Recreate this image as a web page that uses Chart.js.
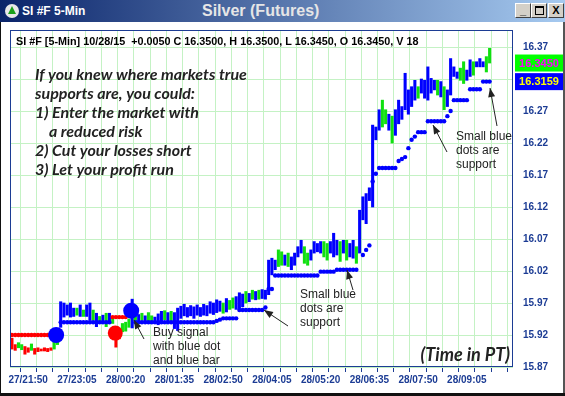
<!DOCTYPE html>
<html>
<head>
<meta charset="utf-8">
<script src="https://cdn.jsdelivr.net/npm/chart.js@4.4.1/dist/chart.umd.min.js"></script>
<style>
  html, body { margin: 0; padding: 0; background: #fff; }
  #win { position: relative; width: 565px; height: 396px; overflow: hidden; background: #fff; font-family: 'Liberation Sans', Arial, sans-serif; }
  #cv { position: absolute; left: 0; top: 0; }
  #tbar { position: absolute; left: 0; top: 0; width: 565px; height: 22px; background: linear-gradient(to right, #0a246a, #a6caf0); }
  #ico { position: absolute; left: 5px; top: 4px; width: 14px; height: 14px; border-radius: 7px; background: #e8e8e8; }
  #tri { position: absolute; left: 3px; top: 2px; width: 0; height: 0; border-left: 4px solid transparent; border-right: 4px solid transparent; border-bottom: 8px solid #1aa01a; }
  #tl { position: absolute; left: 22px; top: 4px; color: #fff; font-weight: bold; font-size: 12px; }
  #tc { position: absolute; left: 202px; top: 2px; color: #e6e6e6; font-weight: bold; font-size: 16px; }
  .btn { position: absolute; top: 3px; width: 14px; height: 13px; background: #d4d0c8; border-top: 1px solid #fff; border-left: 1px solid #fff; border-right: 1px solid #404040; border-bottom: 1px solid #404040; font-weight: bold; font-size: 11px; line-height: 13px; text-align: center; color: #000; }
  .edge { position: absolute; background: #111; }
</style>
</head>
<body>
<div id="win">
  <canvas id="cv" width="565" height="396"></canvas>
  <div id="tbar">
    <div id="ico"><div id="tri"></div></div>
    <span id="tl">SI #F 5-Min</span>
    <span id="tc">Silver (Futures)</span>
    <div class="btn" style="left:515px">_</div>
    <div class="btn" style="left:531px"><div style="margin:2px auto 0; width:7px; height:6px; border:1px solid #000; border-top-width:2px;"></div></div>
    <div class="btn" style="left:548px">X</div>
  </div>
  <div class="edge" style="left:0; top:22px; width:1px; height:374px;"></div>
  <div class="edge" style="left:563px; top:22px; width:2px; height:374px; background:#555;"></div>
  <div class="edge" style="left:0; top:393px; width:565px; height:3px;"></div>
</div>
<script>
// 5-min bars, index 0 = 27/21:25
const highs = [
  15.915, 15.905, 15.908, 15.905, 15.902, 15.900, 15.906, 15.899, 15.900, 15.898,
  15.900, 15.899, 15.900, 15.910, 15.917, 15.972, 15.970, 15.967, 15.970, 15.962,
  15.962, 15.967, 15.959, 15.967, 15.970, 15.959, 15.954, 15.949, 15.951, 15.954,
  15.954, 15.946, 15.931, 15.925, 15.938, 15.940, 15.945, 15.976, 15.956, 15.952,
  15.954, 15.950, 15.955, 15.950, 15.948, 15.953, 15.957, 15.958, 15.955, 15.957,
  15.955, 15.962, 15.965, 15.968, 15.963, 15.966, 15.964, 15.967, 15.963, 15.968,
  15.966, 15.972, 15.970, 15.975, 15.973, 15.970, 15.977, 15.974, 15.978, 15.980,
  15.986, 15.984, 15.988, 15.985, 15.990, 15.988, 15.990, 15.991, 15.990, 16.037,
  16.040, 16.037, 16.053, 16.050, 16.045, 16.048, 16.042, 16.048, 16.058, 16.068,
  16.058, 16.048, 16.053, 16.066, 16.063, 16.066, 16.066, 16.063, 16.066, 16.079,
  16.068, 16.066, 16.068, 16.068, 16.063, 16.068, 16.058, 16.115, 16.136, 16.141,
  16.150, 16.248, 16.245, 16.272, 16.287, 16.272, 16.265, 16.262, 16.272, 16.287,
  16.277, 16.329, 16.303, 16.308, 16.318, 16.308, 16.320, 16.318, 16.339, 16.321,
  16.318, 16.318, 16.316, 16.308, 16.303, 16.352, 16.339, 16.331, 16.337, 16.347,
  16.334, 16.350, 16.347, 16.347, 16.352, 16.347, 16.355, 16.368
];
const lows = [
  15.898, 15.896, 15.900, 15.897, 15.890, 15.893, 15.896, 15.890, 15.894, 15.895,
  15.895, 15.894, 15.896, 15.898, 15.905, 15.932, 15.948, 15.951, 15.948, 15.949,
  15.951, 15.949, 15.949, 15.949, 15.943, 15.943, 15.933, 15.941, 15.938, 15.933,
  15.941, 15.938, 15.901, 15.914, 15.925, 15.926, 15.932, 15.931, 15.940, 15.938,
  15.943, 15.940, 15.942, 15.940, 15.938, 15.936, 15.942, 15.944, 15.942, 15.940,
  15.930, 15.927, 15.946, 15.950, 15.948, 15.950, 15.946, 15.951, 15.949, 15.951,
  15.950, 15.954, 15.952, 15.955, 15.957, 15.954, 15.956, 15.960, 15.962, 15.960,
  15.962, 15.964, 15.970, 15.972, 15.976, 15.975, 15.976, 15.977, 15.976, 15.983,
  16.014, 16.022, 16.027, 16.029, 16.029, 16.027, 16.022, 16.029, 16.042, 16.048,
  16.032, 16.029, 16.037, 16.048, 16.050, 16.048, 16.042, 16.037, 16.048, 16.042,
  16.045, 16.035, 16.048, 16.037, 16.042, 16.040, 16.032, 16.048, 16.100, 16.094,
  16.130, 16.120, 16.225, 16.240, 16.245, 16.250, 16.240, 16.220, 16.232, 16.250,
  16.257, 16.272, 16.265, 16.277, 16.287, 16.290, 16.298, 16.290, 16.287, 16.298,
  16.303, 16.295, 16.292, 16.272, 16.277, 16.295, 16.324, 16.321, 16.318, 16.313,
  16.318, 16.324, 16.326, 16.339, 16.339, 16.339, 16.331, 16.345
];
// 1 = up (blue), 0 = neutral (green), -1 = down (red)
const trend = [
  -1, -1, 0, 0, -1, -1, 0, -1, -1, -1,
  -1, -1, -1, 0, 0, 1, 1, 1, 1, 1,
  0, 1, 0, 1, 1, 0, 1, 0, 1, 0,
  1, 0, -1, -1, 0, 0, 0, 1, 0, 1,
  0, 1, 0, 0, 1, 1, 1, 0, 1, 0,
  1, 1, 1, 1, 1, 1, 1, 1, 1, 1,
  1, 1, 1, 1, 1, 0, 1, 0, 0, 1,
  1, 1, 0, 1, 0, 1, 0, 1, 1, 1,
  1, 1, 0, 0, 1, 0, 1, 1, 1, 1,
  0, 0, 1, 1, 1, 1, 0, 0, 1, 1,
  1, 0, 1, 0, 1, 1, 0, 1, 1, 1,
  1, 1, 1, 1, 0, 0, 1, 0, 1, 1,
  1, 1, 1, 1, 1, 0, 1, 1, 1, 1,
  1, 0, 1, 0, 1, 1, 1, 1, 0, 0,
  1, 1, 0, 1, 1, 1, 0, 0
];
// support (small blue dots) per bar
const support = [
  null, null, null, null, null, null, null, null, null, null,
  null, null, null, null, null, 15.940, 15.940, 15.940, 15.940, 15.940,
  15.940, 15.940, 15.940, 15.940, 15.940, 15.940, 15.940, 15.940, 15.940, 15.940,
  15.940, null, null, null, null, null, null, null, 15.940, 15.940,
  15.940, 15.940, 15.940, 15.940, 15.940, 15.940, 15.940, 15.940, 15.940, 15.940,
  15.940, 15.940, 15.940, 15.940, 15.940, 15.940, 15.940, 15.940, 15.940, 15.940,
  15.940, 15.940, 15.940, 15.942, 15.944, 15.946, 15.946, 15.946, 15.946, 15.946,
  15.959, 15.959, 15.959, 15.959, 15.959, 15.959, 15.959, 15.959, 15.963, 15.992,
  15.992, 16.013, 16.013, 16.013, 16.013, 16.013, 16.013, 16.013, 16.013, 16.013,
  16.013, 16.013, 16.013, 16.013, 16.013, 16.019, 16.019, 16.019, 16.019, 16.019,
  16.022, 16.022, 16.022, 16.022, 16.022, 16.022, 16.022, null, 16.045, 16.053,
  16.060, 16.160, 16.172, 16.181, 16.181, 16.181, 16.181, 16.181, 16.181, 16.192,
  16.195, 16.198, 16.212, 16.225, 16.230, 16.237, 16.237, 16.237, 16.254, 16.254,
  16.254, 16.254, 16.254, 16.254, 16.262, 16.270, 16.287, 16.287, 16.287, 16.287,
  16.287, 16.304, 16.304, 16.304, 16.304, 16.316, 16.316, 16.316
];
// resistance (small red dots) per bar
const resist = [
  15.920, 15.920, 15.920, 15.920, 15.920, 15.920, 15.920, 15.920, 15.920, 15.920,
  15.920, 15.920, 15.920, null, null, null, null, null, null, null,
  null, null, null, null, null, null, null, null, null, null,
  null, 15.948, 15.948, 15.948, 15.948, 15.948
];
// big signal dots
const sigIdx = [13.6, 31.8, 36.7];
const sigPrice = [15.920, 15.923, 15.958];
const sigSide = ['buy', 'sell', 'buy'];

const xLabels = ['27/21:50', '27/23:05', '28/00:20', '28/01:35', '28/02:50',
                 '28/04:05', '28/05:20', '28/06:35', '28/07:50', '28/09:05'];
const yTicks = [16.37, 16.32, 16.27, 16.22, 16.17, 16.12, 16.07, 16.02, 15.97, 15.92, 15.87];
const lastPrice = 16.3450;
const lastSupport = 16.3159;
const header = 'SI #F [5-Min] 10/28/15  +0.0050 C 16.3500, H 16.3500, L 16.3450, O 16.3450, V 18';

const BLUE = '#0000ff', GREEN = '#10e010', RED = '#ff0000';
const NAVY = '#1c3c94', GRID = '#c4f2c4';
const FONT = "'Liberation Sans', Arial, sans-serif";

function dots(arr) {
  const out = [];
  arr.forEach((v, i) => { if (v != null) out.push({x: i, y: v}); });
  return out;
}

function arrow(ctx, x1, y1, x2, y2) {
  ctx.beginPath(); ctx.moveTo(x1, y1); ctx.lineTo(x2, y2); ctx.stroke();
  const a = Math.atan2(y2 - y1, x2 - x1), L = 9, W = 3.5;
  ctx.beginPath();
  ctx.moveTo(x2, y2);
  ctx.lineTo(x2 - L * Math.cos(a) + W * Math.sin(a), y2 - L * Math.sin(a) - W * Math.cos(a));
  ctx.lineTo(x2 - L * Math.cos(a) - W * Math.sin(a), y2 - L * Math.sin(a) + W * Math.cos(a));
  ctx.closePath(); ctx.fill();
}

const overlay = {
  id: 'overlay',
  beforeDraw(chart) {
    const c = chart.ctx;
    c.save(); c.fillStyle = '#fff'; c.fillRect(0, 0, chart.width, chart.height); c.restore();
  },
  afterDraw(chart) {
    const c = chart.ctx, a = chart.chartArea, y = chart.scales.y;
    c.save();
    // plot frame
    c.strokeStyle = NAVY; c.lineWidth = 1;
    c.strokeRect(a.left + 0.5, a.top + 0.5, a.right - a.left - 1, a.bottom - a.top - 1);
    // header line
    c.fillStyle = '#000'; c.textBaseline = 'middle';
    c.font = 'bold 10.8px ' + FONT;
    c.fillText(header, a.left + 6, a.top + 12);
    // last price / support boxes
    const boxes = [[lastPrice, '#00ff00', '#ff00ff'], [lastSupport, '#0000ff', '#ffff00']];
    boxes.forEach(([v, bg, fg]) => {
      const py = y.getPixelForValue(v);
      c.fillStyle = bg; c.fillRect(a.right + 2, py - 8.5, 48, 17);
      c.fillStyle = fg; c.textAlign = 'center';
      c.font = 'bold 11px ' + FONT;
      c.fillText(v.toFixed(4), a.right + 26, py + 0.5);
    });
    c.textAlign = 'left';
    // notes
    c.fillStyle = '#222';
    c.font = 'italic bold 16px Lato, ' + FONT;
    const lines = ['If you knew where markets true', 'supports are, you could:', '1) Enter the market with',
                   '    a reduced risk', '2) Cut your losses short', '3) Let your profit run'];
    lines.forEach((t, k) => c.fillText(t, 35, 75 + k * 19));
    c.font = 'italic bold 18px Lato, ' + FONT;
    c.textAlign = 'right';
    c.fillText('(Time in PT)', 510, 355);
    c.textAlign = 'left';
    c.font = '12px ' + FONT;
    ['Buy signal', 'with blue dot', 'and blue bar'].forEach((t, k) => c.fillText(t, 153, 333 + k * 14));
    ['Small blue', 'dots are', 'support'].forEach((t, k) => c.fillText(t, 300, 295 + k * 14));
    ['Small blue', 'dots are', 'support'].forEach((t, k) => c.fillText(t, 456, 137 + k * 14));
    c.strokeStyle = '#222'; c.fillStyle = '#222'; c.lineWidth = 1;
    arrow(c, 144, 339, 134, 320);
    arrow(c, 288, 326, 264, 310);
    arrow(c, 353, 290, 347, 270);
    arrow(c, 447, 152, 433, 125);
    arrow(c, 497, 126, 490, 88);
    c.restore();
  }
};

const tickFont = {family: FONT, size: 10, weight: 'bold'};

new Chart(document.getElementById('cv'), {
  type: 'bar',
  data: {
    datasets: [
      {
        type: 'line', showLine: false, order: 1,
        data: sigIdx.map((v, k) => ({x: v, y: sigPrice[k]})),
        pointRadius: sigSide.map(s => s === 'buy' ? 8 : 7.5),
        pointBackgroundColor: sigSide.map(s => s === 'buy' ? BLUE : RED),
        pointBorderWidth: 0
      },
      {
        type: 'line', showLine: false, order: 2,
        data: dots(support),
        pointRadius: 2.2, pointBackgroundColor: BLUE, pointBorderWidth: 0
      },
      {
        type: 'line', showLine: false, order: 2,
        data: dots(resist),
        pointRadius: 2.2, pointBackgroundColor: RED, pointBorderWidth: 0
      },
      {
        type: 'bar', order: 3,
        data: highs.map((h, i) => ({x: i, y: [lows[i], h]})),
        backgroundColor: trend.map(t => t > 0 ? BLUE : (t < 0 ? RED : GREEN)),
        barThickness: 2.4, grouped: false, minBarLength: 2
      }
    ]
  },
  options: {
    responsive: false,
    animation: false,
    layout: {padding: {left: 10, top: 30, right: 0, bottom: 0}},
    plugins: {legend: {display: false}, tooltip: {enabled: false}},
    scales: {
      x: {
        type: 'linear', min: -0.6, max: 154.2, offset: false,
        afterBuildTicks: s => { s.ticks = Array.from({length: 31}, (_, k) => ({value: k * 5})); },
        afterFit: s => { s.height = 29; },
        grid: {color: GRID, tickColor: NAVY, tickLength: 5},
        border: {display: false},
        ticks: {
          autoSkip: false, maxRotation: 0, padding: 2, color: NAVY, font: tickFont,
          callback: v => ((v - 5) % 15 === 0 && v >= 5) ? xLabels[(v - 5) / 15] : ''
        }
      },
      y: {
        position: 'right', min: 15.87, max: 16.3966,
        afterBuildTicks: s => { s.ticks = yTicks.map(v => ({value: v})); },
        afterFit: s => { s.width = 52; },
        grid: {color: GRID, drawTicks: false},
        border: {display: false},
        ticks: {padding: 10, color: NAVY, font: tickFont, callback: v => v.toFixed(2)}
      }
    }
  },
  plugins: [overlay]
});
</script>
</body>
</html>
